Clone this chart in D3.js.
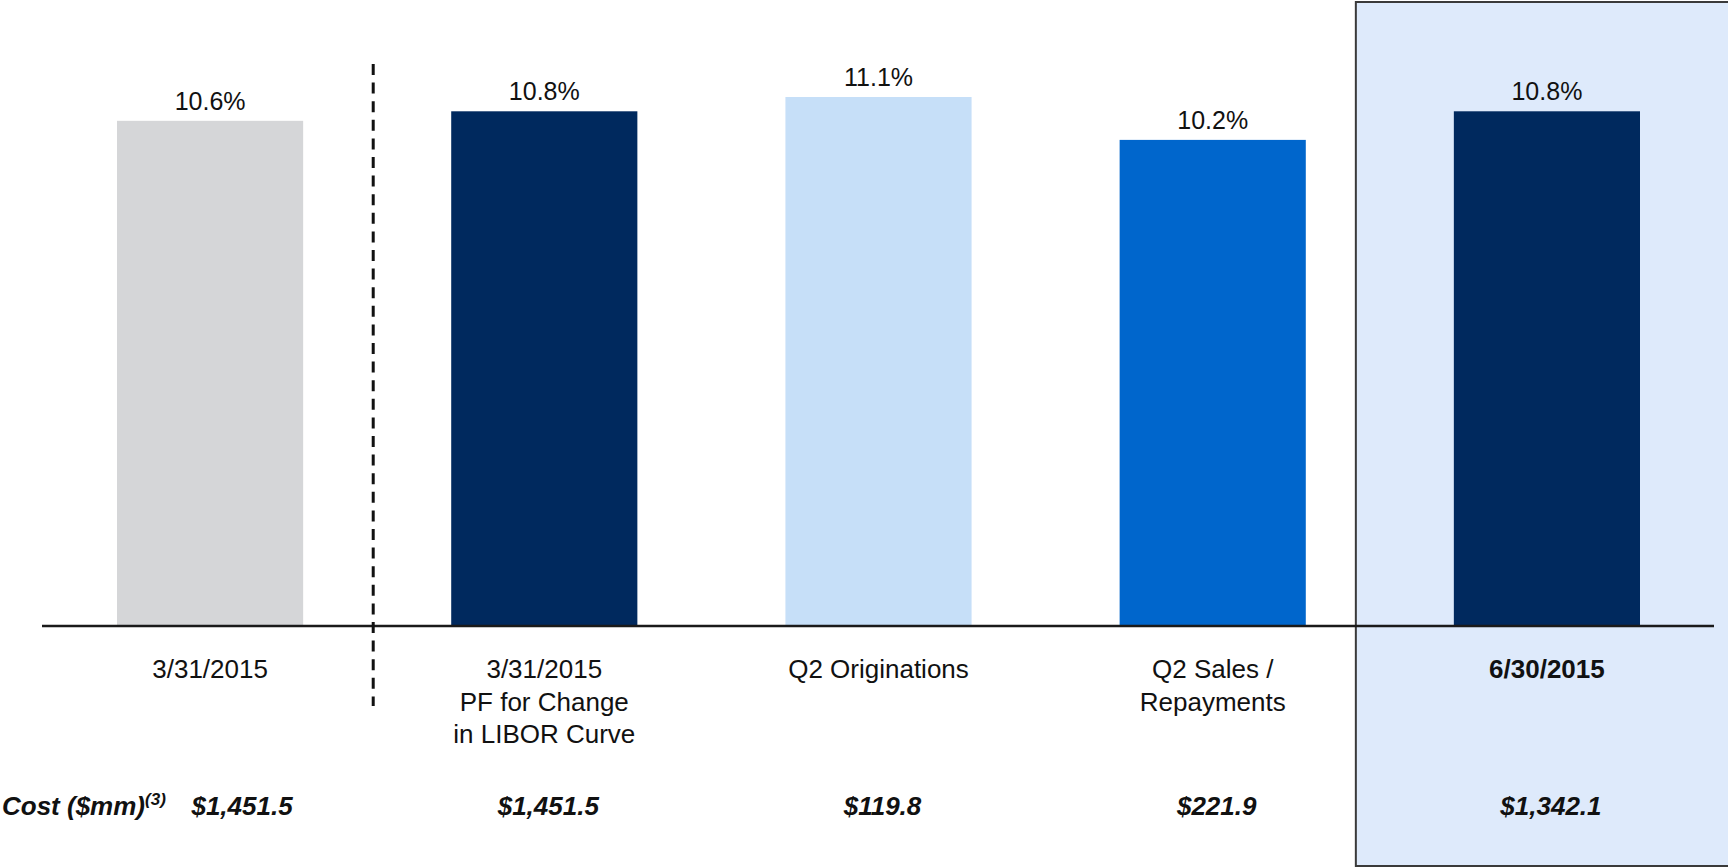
<!DOCTYPE html>
<html>
<head>
<meta charset="utf-8">
<script src="https://cdn.jsdelivr.net/npm/d3@7"></script>
<style>
  html, body { margin: 0; padding: 0; background: #fff; }
  svg { display: block; font-family: "Liberation Sans", Arial, sans-serif; }
</style>
</head>
<body>
<svg id="chart" width="1728" height="867"></svg>
<script>
// chart data
let categories = ['3/31/2015', '3/31/2015 PF', 'Q2 Originations', 'Q2 Sales / Repayments', '6/30/2015'];
let catLines = [
    ['3/31/2015'],
    ['3/31/2015', 'PF for Change', 'in LIBOR Curve'],
    ['Q2 Originations'],
    ['Q2 Sales /', 'Repayments'],
    ['6/30/2015']
];
let yields = [10.6, 10.8, 11.1, 10.2, 10.8];
let costs = ['$1,451.5', '$1,451.5', '$119.8', '$221.9', '$1,342.1'];
let barColors = ['#d5d6d8', '#00295e', '#c6dff8', '#0066cc', '#00295e'];

let svg = d3.select('#chart');

let x = d3.scaleBand()
    .domain(categories)
    .range([117, 1640])
    .paddingInner(0.443)
    .paddingOuter(0);

let y = d3.scaleLinear()
    .domain([0, 11.1])
    .range([626, 97]);

let fmt = d3.format('.1f');
let cx = function(d) { return x(d) + x.bandwidth() / 2; };

// highlight panel behind the last column
let last = categories[categories.length - 1];
svg.append('rect')
    .attr('x', x(last) - 98)
    .attr('y', 2)
    .attr('width', 500)
    .attr('height', 864)
    .attr('fill', '#deeafb')
    .attr('stroke', '#3a3a3a')
    .attr('stroke-width', 2);

// bars
svg.append('g').attr('class', 'bars')
    .selectAll('rect')
    .data(categories).enter()
    .append('rect')
    .attr('x', function(d) { return x(d); })
    .attr('y', function(d, i) { return y(yields[i]); })
    .attr('width', x.bandwidth())
    .attr('height', function(d, i) { return y(0) - y(yields[i]); })
    .attr('fill', function(d, i) { return barColors[i]; });

// value labels
svg.append('g').attr('class', 'values')
    .selectAll('text')
    .data(categories).enter()
    .append('text')
    .attr('x', cx)
    .attr('y', function(d, i) { return y(yields[i]) - 11; })
    .attr('text-anchor', 'middle')
    .attr('font-size', 25)
    .attr('fill', '#111')
    .text(function(d, i) { return fmt(yields[i]) + '%'; });

// baseline
svg.append('line')
    .attr('x1', 42)
    .attr('x2', 1714)
    .attr('y1', y(0))
    .attr('y2', y(0))
    .attr('stroke', '#1a1a1a')
    .attr('stroke-width', 2.5);

// dashed separator after the first column
let sepX = x(categories[1]) - 78;
svg.append('line')
    .attr('x1', sepX)
    .attr('x2', sepX)
    .attr('y1', 64)
    .attr('y2', 706)
    .attr('stroke', '#111')
    .attr('stroke-width', 3)
    .attr('stroke-dasharray', '11,7.6');

// category labels
let catg = svg.append('g').attr('class', 'categories');
catg.selectAll('text')
    .data(categories).enter()
    .append('text')
    .attr('x', cx)
    .attr('y', 678)
    .attr('text-anchor', 'middle')
    .attr('font-size', 26)
    .attr('font-weight', function(d, i) { return i === categories.length - 1 ? 'bold' : 'normal'; })
    .attr('fill', '#111')
    .each(function(d, i) {
        d3.select(this).selectAll('tspan')
            .data(catLines[i]).enter()
            .append('tspan')
            .attr('x', cx(d))
            .attr('dy', function(t, j) { return j > 0 ? 32.5 : 0; })
            .text(function(t) { return t; });
    });

// cost row
let costLabel = svg.append('text')
    .attr('x', 2)
    .attr('y', 815)
    .attr('font-size', 26)
    .attr('font-weight', 'bold')
    .attr('font-style', 'italic')
    .attr('fill', '#111');
costLabel.append('tspan').text('Cost ($mm)');
costLabel.append('tspan')
    .attr('font-size', 17)
    .attr('dy', -10)
    .text('(3)');

svg.append('g').attr('class', 'costs')
    .selectAll('text')
    .data(categories).enter()
    .append('text')
    .attr('x', function(d, i) { return cx(d) + (i === 0 ? 32 : 4); })
    .attr('y', 815)
    .attr('text-anchor', 'middle')
    .attr('font-size', 26)
    .attr('font-weight', 'bold')
    .attr('font-style', 'italic')
    .attr('fill', '#111')
    .text(function(d, i) { return costs[i]; });
</script>
</body>
</html>
